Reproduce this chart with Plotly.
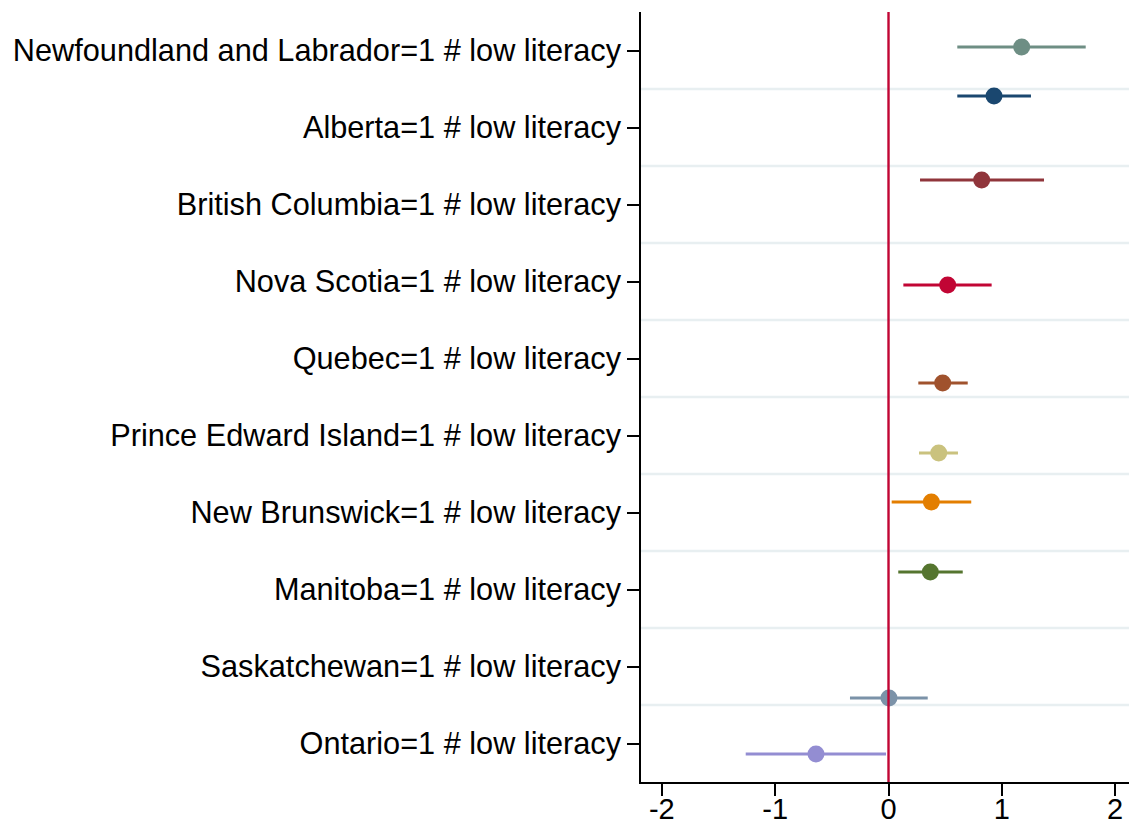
import plotly.graph_objects as go

# Interaction terms, listed top to bottom (sorted by point estimate)
labels = [
    "Newfoundland and Labrador=1 # low literacy",
    "Alberta=1 # low literacy",
    "British Columbia=1 # low literacy",
    "Nova Scotia=1 # low literacy",
    "Quebec=1 # low literacy",
    "Prince Edward Island=1 # low literacy",
    "New Brunswick=1 # low literacy",
    "Manitoba=1 # low literacy",
    "Saskatchewan=1 # low literacy",
    "Ontario=1 # low literacy",
]
provinces = [
    "Newfoundland and Labrador", "Alberta", "British Columbia", "Nova Scotia",
    "Quebec", "Prince Edward Island", "New Brunswick", "Manitoba",
    "Saskatchewan", "Ontario",
]
estimate = [1.175, 0.931, 0.822, 0.522, 0.478, 0.443, 0.378, 0.369, 0.004, -0.640]
ci_low = [0.607, 0.607, 0.278, 0.131, 0.263, 0.269, 0.028, 0.086, -0.340, -1.260]
ci_high = [1.740, 1.257, 1.372, 0.910, 0.699, 0.613, 0.730, 0.655, 0.346, -0.022]
x_ticks = [-2, -1, 0, 1, 2]

# s2color palette, assigned to models in alphabetical order
palette = ["#1A476F", "#90353B", "#55752F", "#E37E00", "#6E8E84",
           "#C10534", "#938DD2", "#CAC27E", "#A0522D", "#7B92A8"]

n = len(provinces)
alpha_rank = {p: i for i, p in enumerate(sorted(provinces))}

fig = go.Figure()
for i, prov in enumerate(provinces):
    r = alpha_rank[prov]
    # each model is shifted within its row, coefplot style
    offset = (r + 1 - (n + 1) / 2) / (n + 1)
    col = palette[r]
    fig.add_trace(go.Scatter(
        x=[estimate[i]],
        y=[i + 1 + offset],
        mode="markers",
        marker=dict(size=17, color=col),
        error_x=dict(
            type="data", symmetric=False,
            array=[ci_high[i] - estimate[i]],
            arrayminus=[estimate[i] - ci_low[i]],
            color=col, thickness=2.8, width=0,
        ),
        showlegend=False,
        hoverinfo="skip",
    ))

# light separators between rows
for k in range(1, n):
    fig.add_shape(type="line", xref="paper", yref="y",
                  x0=0, x1=1, y0=k + 0.5, y1=k + 0.5,
                  line=dict(color="#E8EFF1", width=2.5), layer="below")

# reference line at zero
fig.add_shape(type="line", xref="x", yref="paper", x0=0, x1=0, y0=0, y1=1,
              line=dict(color="#C10534", width=2.4), layer="above")

fig.update_layout(
    width=1129, height=826,
    margin=dict(l=641, r=0, t=12, b=44),
    plot_bgcolor="white", paper_bgcolor="white",
    font=dict(family="Liberation Sans, Arial, sans-serif", color="black"),
)
fig.update_xaxes(
    range=[-2.184, 2.122], automargin=False,
    tickvals=x_ticks, ticktext=[str(v) for v in x_ticks],
    showgrid=False, zeroline=False,
    showline=True, linecolor="black", linewidth=1.6,
    ticks="outside", ticklen=12, tickwidth=1.6, tickcolor="black",
    tickfont=dict(size=29),
    ticklabelstandoff=-12,
)
fig.update_yaxes(
    range=[n + 0.5, 0.5], automargin=False,
    tickvals=list(range(1, n + 1)), ticktext=labels,
    showgrid=False, zeroline=False,
    showline=True, linecolor="black", linewidth=1.6,
    ticks="outside", ticklen=12, tickwidth=1.6, tickcolor="black",
    tickfont=dict(size=30.7),
    ticklabelstandoff=0,
)

fig.write_html("out.html")
